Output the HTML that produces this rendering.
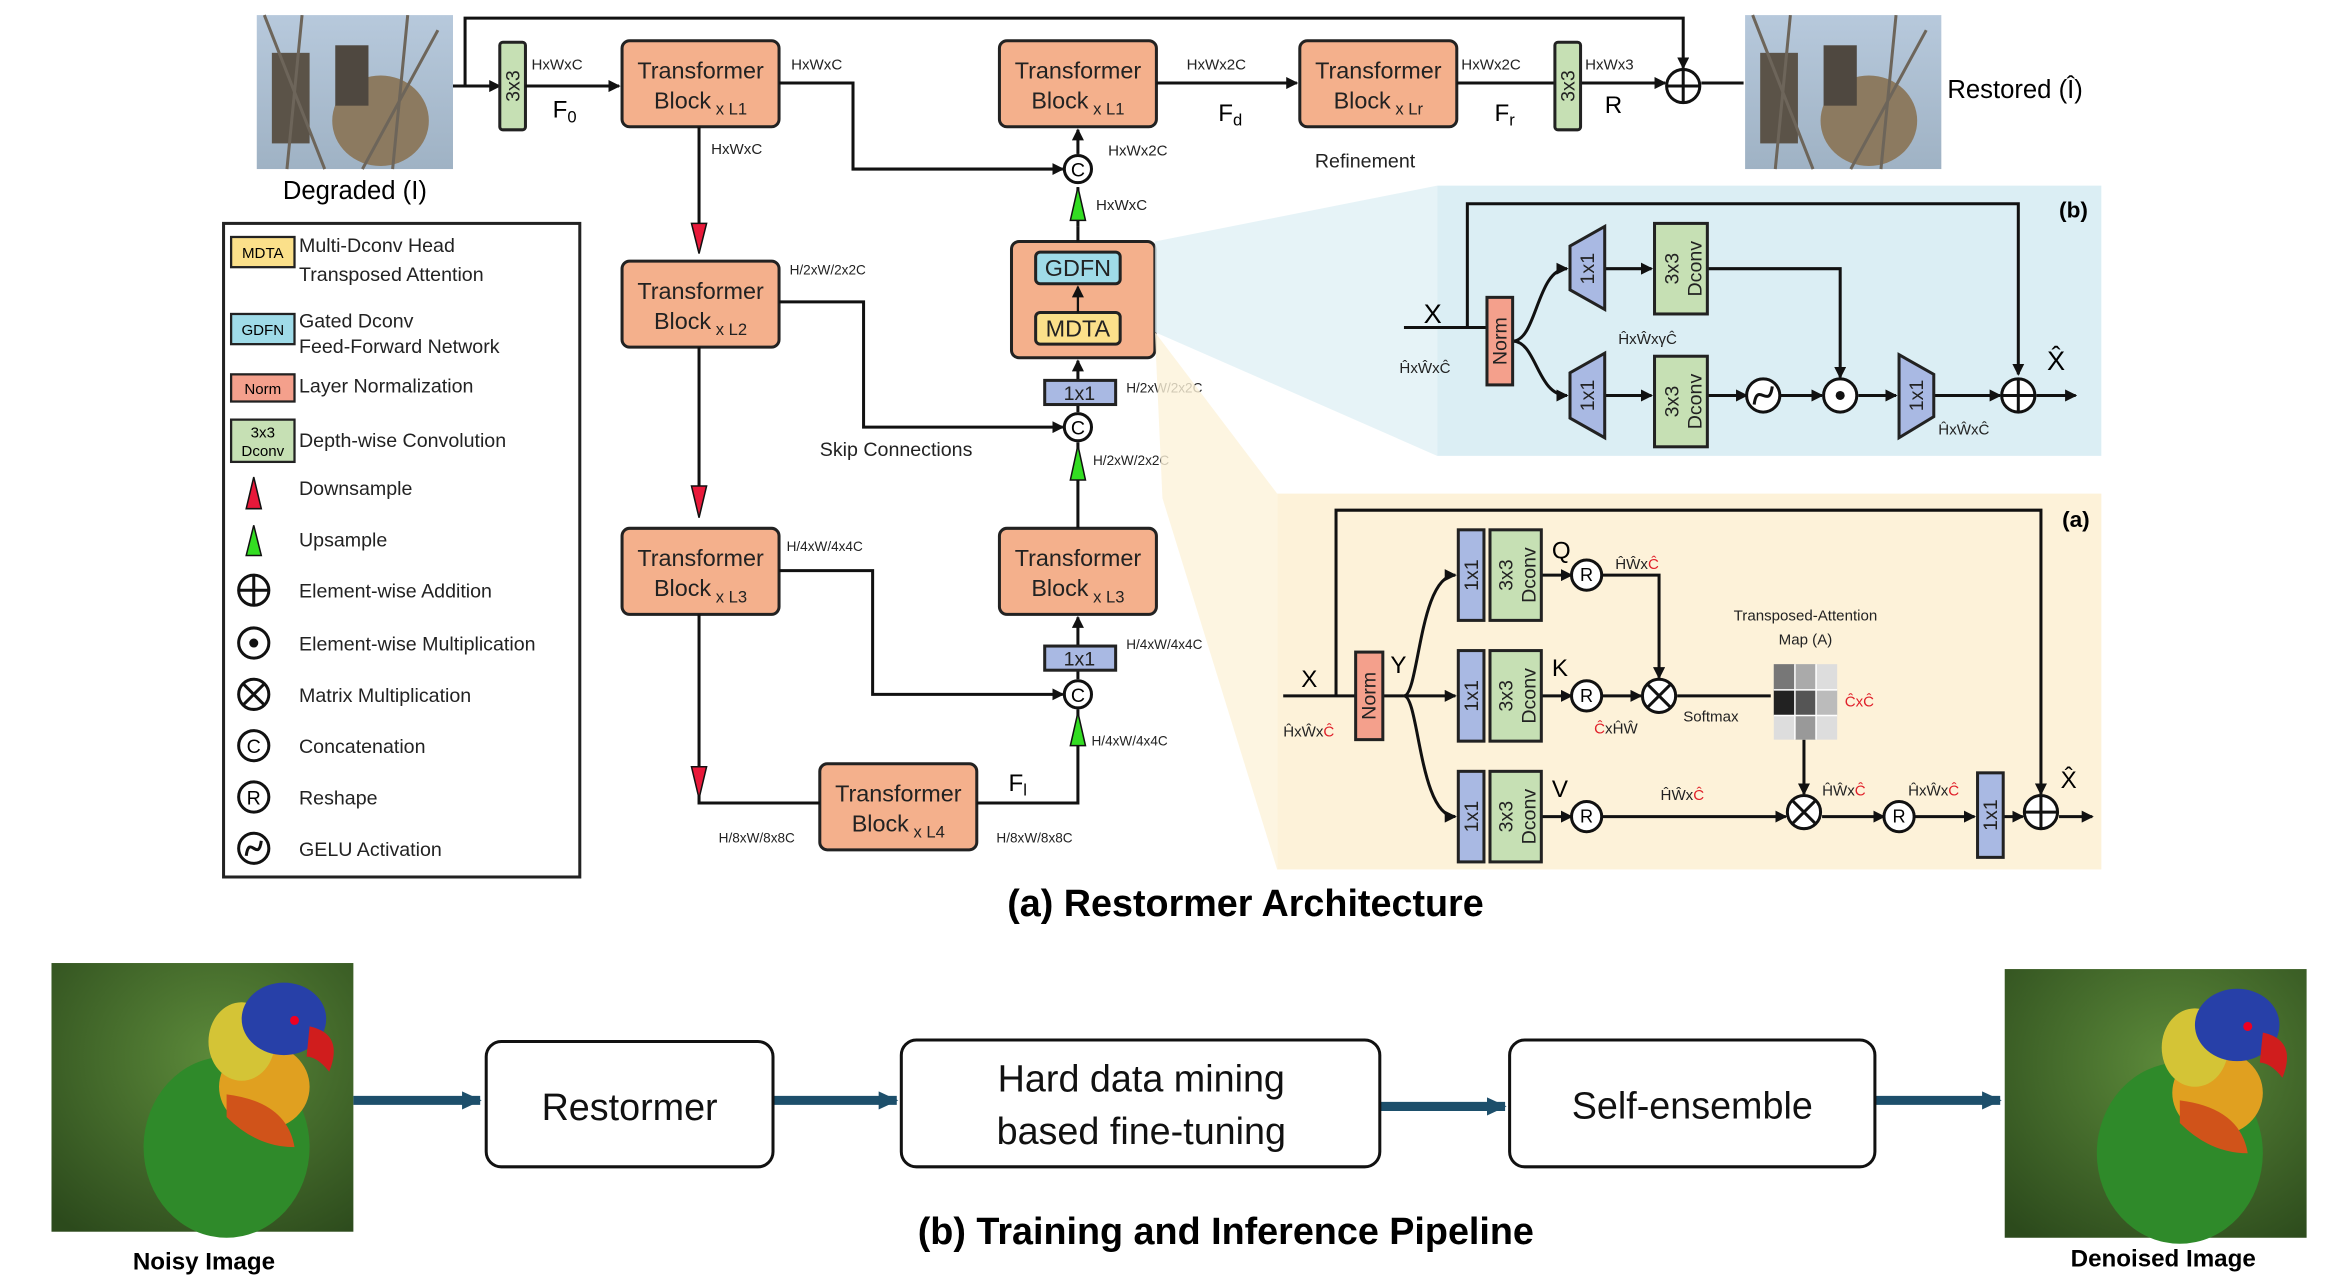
<!DOCTYPE html>
<html><head><meta charset="utf-8"><style>
html,body{margin:0;padding:0;background:#fff;}
svg{display:block;}
text{font-family:"Liberation Sans Narrow","Liberation Sans",sans-serif;}
.n{font-size:13px;fill:#222;}
.s{font-size:10px;fill:#222;}
.tb{font-size:15.5px;fill:#222;}
.w{font-family:"Liberation Sans",sans-serif;}
</style></head><body>
<svg width="2343" height="1277" viewBox="0 0 1552 846" xmlns="http://www.w3.org/2000/svg">
<defs>
<marker id="a" markerWidth="8" markerHeight="8" refX="7" refY="4" orient="auto" markerUnits="userSpaceOnUse"><path d="M0,0 L8,4 L0,8 z" fill="#111"/></marker>
<marker id="t" markerWidth="14" markerHeight="14" refX="12" refY="7" orient="auto" markerUnits="userSpaceOnUse"><path d="M0,1 L13,7 L0,13 z" fill="#1d4f6b"/></marker>
<linearGradient id="sky" x1="0" y1="0" x2="0" y2="1"><stop offset="0" stop-color="#b7c9dc"/><stop offset="1" stop-color="#9fb2c4"/></linearGradient>
<radialGradient id="par" cx="0.55" cy="0.35" r="0.8"><stop offset="0" stop-color="#5c8a3a"/><stop offset="1" stop-color="#2c4a1c"/></radialGradient>
</defs>

<g id="deg">
<rect x="170" y="10" width="130" height="102" fill="url(#sky)"/>
<ellipse cx="252" cy="80" rx="32" ry="30" fill="#8c7a60"/>
<rect x="180" y="35" width="25" height="60" fill="#5b5348"/>
<rect x="222" y="30" width="22" height="40" fill="#4f4840"/>
<path d="M175,10 L215,112 M200,10 L190,112 M270,10 L260,112 M290,20 L240,112" stroke="#6d655a" stroke-width="2"/>
</g>
<use href="#deg" x="986"/>
<text x="235" y="132" font-size="17" text-anchor="middle">Degraded (I)</text>
<text x="1290" y="65" font-size="17">Restored (Î)</text>

<path d="M300,57 H331" stroke="#111" stroke-width="2" marker-end="url(#a)"/>
<path d="M308,57 V12 H1115 V45" fill="none" stroke="#111" stroke-width="2" marker-end="url(#a)"/>
<rect x="331" y="28" width="17" height="58" fill="#c6e0b4" stroke="#222" stroke-width="2" rx="2"/>
<text transform="translate(344,57) rotate(-90)" text-anchor="middle" class="n">3x3</text>
<path d="M348,57 H410" stroke="#111" stroke-width="2" marker-end="url(#a)"/>
<text x="352" y="46" class="s">HxWxC</text>
<text x="366" y="78" font-family="Liberation Serif" font-size="16">F<tspan font-size="11" dy="3">0</tspan></text>

<g fill="#f4b08c" stroke="#222" stroke-width="2">
<rect x="412" y="27" width="104" height="57" rx="5"/>
<rect x="662" y="27" width="104" height="57" rx="5"/>
<rect x="861" y="27" width="104" height="57" rx="5"/>
<rect x="412" y="173" width="104" height="57" rx="5"/>
<rect x="412" y="350" width="104" height="57" rx="5"/>
<rect x="662" y="350" width="104" height="57" rx="5"/>
<rect x="543" y="506" width="104" height="57" rx="5"/>
<rect x="670" y="160" width="95" height="77" rx="5"/>
</g>
<g class="tb" text-anchor="middle">
<text x="464" y="52">Transformer</text><text x="464" y="72">Block<tspan font-size="11" dy="4"> x L1</tspan></text>
<text x="714" y="52">Transformer</text><text x="714" y="72">Block<tspan font-size="11" dy="4"> x L1</tspan></text>
<text x="913" y="52">Transformer</text><text x="913" y="72">Block<tspan font-size="11" dy="4"> x Lr</tspan></text>
<text x="464" y="198">Transformer</text><text x="464" y="218">Block<tspan font-size="11" dy="4"> x L2</tspan></text>
<text x="464" y="375">Transformer</text><text x="464" y="395">Block<tspan font-size="11" dy="4"> x L3</tspan></text>
<text x="714" y="375">Transformer</text><text x="714" y="395">Block<tspan font-size="11" dy="4"> x L3</tspan></text>
<text x="595" y="531">Transformer</text><text x="595" y="551">Block<tspan font-size="11" dy="4"> x L4</tspan></text>
</g>
<rect x="686" y="167" width="56" height="21" rx="3" fill="#9fdbe8" stroke="#222" stroke-width="2"/>
<text x="714" y="183" class="tb" text-anchor="middle">GDFN</text>
<rect x="686" y="207" width="56" height="21" rx="3" fill="#fbe08a" stroke="#222" stroke-width="2"/>
<text x="714" y="223" class="tb" text-anchor="middle">MDTA</text>
<path d="M714,207 V190" stroke="#111" stroke-width="1.5" marker-end="url(#a)"/>

<g stroke="#111" stroke-width="2" fill="none">
<path d="M516,55 H565 V112 H704" marker-end="url(#a)"/>
<path d="M714,102 V86" marker-end="url(#a)"/>
<path d="M714,150 V124"/>
<path d="M714,160 V150"/>
<path d="M766,55 H859" marker-end="url(#a)"/>
<path d="M965,55 H1030"/>
<path d="M1047,55 H1103" marker-end="url(#a)"/>
<path d="M1127,55 H1155"/>
<path d="M463,84 V165"/>
<path d="M463,230 V340"/>
<path d="M463,407 V532 H543"/>
<path d="M516,200 H572 V283 H704" marker-end="url(#a)"/>
<path d="M516,378 H578 V460 H704" marker-end="url(#a)"/>
<path d="M647,532 H714 V470"/>
<path d="M714,350 V293"/>
<path d="M714,273 V268"/>
<path d="M714,252 V239" marker-end="url(#a)"/>
<path d="M714,428 V409" marker-end="url(#a)"/>
<path d="M714,450 V444"/>
</g>
<rect x="1030" y="28" width="17" height="58" fill="#c6e0b4" stroke="#222" stroke-width="2" rx="2"/>
<text transform="translate(1043,57) rotate(-90)" text-anchor="middle" class="n">3x3</text>
<circle cx="1115" cy="57" r="11" fill="#fff" stroke="#111" stroke-width="2"/>
<path d="M1104,57 H1126 M1115,46 V68" stroke="#111" stroke-width="2"/>
<g fill="#fff" stroke="#111" stroke-width="2">
<circle cx="714" cy="112" r="9"/><circle cx="714" cy="283" r="9"/><circle cx="714" cy="460" r="9"/>
</g>
<g font-size="13" text-anchor="middle"><text x="714" y="117">C</text><text x="714" y="288">C</text><text x="714" y="465">C</text></g>
<g fill="#33dd22" stroke="#111" stroke-width="1">
<path d="M714,124 L709,146 L719,146 z"/><path d="M714,295 L709,318 L719,318 z"/><path d="M714,472 L709,494 L719,494 z"/>
</g>
<g fill="#e8193a" stroke="#111" stroke-width="1">
<path d="M463,168 L458,148 L468,148 z"/><path d="M463,343 L458,322 L468,322 z"/><path d="M463,529 L458,508 L468,508 z"/>
</g>
<g fill="#a9b9e3" stroke="#222" stroke-width="2">
<rect x="692" y="252" width="47" height="16"/><rect x="692" y="428" width="47" height="16"/>
</g>
<text x="715" y="265" class="n" text-anchor="middle">1x1</text><text x="715" y="441" class="n" text-anchor="middle">1x1</text>

<g class="s">
<text x="524" y="46">HxWxC</text><text x="471" y="102">HxWxC</text>
<text x="734" y="103">HxWx2C</text><text x="726" y="139">HxWxC</text>
<text x="786" y="46">HxWx2C</text><text x="968" y="46">HxWx2C</text><text x="1050" y="46">HxWx3</text>
<text x="523" y="182" font-size="9">H/2xW/2x2C</text><text x="746" y="260" font-size="9">H/2xW/2x2C</text><text x="724" y="308" font-size="9">H/2xW/2x2C</text>
<text x="521" y="365" font-size="9">H/4xW/4x4C</text><text x="746" y="430" font-size="9">H/4xW/4x4C</text><text x="723" y="494" font-size="9">H/4xW/4x4C</text>
<text x="476" y="558" font-size="9">H/8xW/8x8C</text><text x="660" y="558" font-size="9">H/8xW/8x8C</text>
</g>
<text x="543" y="302" class="n">Skip Connections</text>
<text x="871" y="111" class="n">Refinement</text>
<g font-family="Liberation Serif" font-size="16">
<text x="807" y="80">F<tspan font-size="11" dy="3">d</tspan></text>
<text x="990" y="80">F<tspan font-size="11" dy="3">r</tspan></text>
<text x="1063" y="75">R</text>
<text x="668" y="524">F<tspan font-size="11" dy="3">l</tspan></text>
</g>

<rect x="148" y="148" width="236" height="433" fill="#fff" stroke="#222" stroke-width="2"/>
<rect x="153" y="157" width="42" height="20" fill="#fbe08a" stroke="#222" stroke-width="1.5"/><text x="174" y="171" font-size="10" text-anchor="middle">MDTA</text>
<rect x="153" y="208" width="42" height="20" fill="#9fdbe8" stroke="#222" stroke-width="1.5"/><text x="174" y="222" font-size="10" text-anchor="middle">GDFN</text>
<rect x="153" y="248" width="42" height="18" fill="#f4a08c" stroke="#222" stroke-width="1.5"/><text x="174" y="261" font-size="10" text-anchor="middle">Norm</text>
<rect x="153" y="278" width="42" height="28" fill="#c6e0b4" stroke="#222" stroke-width="1.5"/><text x="174" y="290" font-size="10" text-anchor="middle">3x3</text><text x="174" y="302" font-size="10" text-anchor="middle">Dconv</text>
<g class="n">
<text x="198" y="167">Multi-Dconv Head</text><text x="198" y="186">Transposed Attention</text>
<text x="198" y="217">Gated Dconv</text><text x="198" y="234">Feed-Forward Network</text>
<text x="198" y="260">Layer Normalization</text>
<text x="198" y="296">Depth-wise Convolution</text>
<text x="198" y="328">Downsample</text><text x="198" y="362">Upsample</text>
<text x="198" y="396">Element-wise Addition</text><text x="198" y="431">Element-wise Multiplication</text>
<text x="198" y="465">Matrix Multiplication</text><text x="198" y="499">Concatenation</text>
<text x="198" y="533">Reshape</text><text x="198" y="567">GELU Activation</text>
</g>
<path d="M168,316 L163,337 L173,337 z" fill="#e8193a" stroke="#111"/>
<path d="M168,348 L163,368 L173,368 z" fill="#33dd22" stroke="#111"/>
<g fill="#fff" stroke="#111" stroke-width="2">
<circle cx="168" cy="391" r="10"/><circle cx="168" cy="426" r="10"/><circle cx="168" cy="460" r="10"/><circle cx="168" cy="494" r="10"/><circle cx="168" cy="528" r="10"/><circle cx="168" cy="562" r="10"/>
</g>
<path d="M158,391 H178 M168,381 V401 M161,453 L175,467 M175,453 L161,467 M163,567 C165,552 171,572 173,557" stroke="#111" stroke-width="2" fill="none"/>
<circle cx="168" cy="426" r="3" fill="#111"/>
<text x="168" y="499" text-anchor="middle" font-size="13">C</text><text x="168" y="533" text-anchor="middle" font-size="13">R</text>

<path d="M765,160 L952,123 L952,302 L765,220 z" fill="#dbeef4" opacity="0.7"/>
<rect x="952" y="123" width="440" height="179" fill="#dbeef4"/>
<path d="M765,220 L846,327 L846,576 L770,330 z" fill="#fdf2d9" opacity="0.8"/>
<rect x="846" y="327" width="546" height="249" fill="#fdf2d9"/>

<g stroke="#111" stroke-width="2" fill="none">
<path d="M930,217 H985"/>
<path d="M972,217 V135 H1337 V248" marker-end="url(#a)"/>
<path d="M1002,226 C1018,226 1018,178 1038,178" marker-end="url(#a)"/>
<path d="M1002,226 C1018,226 1018,262 1038,262" marker-end="url(#a)"/>
<path d="M1063,178 H1094" marker-end="url(#a)"/><path d="M1063,262 H1094" marker-end="url(#a)"/>
<path d="M1131,178 H1219 V250" marker-end="url(#a)"/>
<path d="M1131,262 H1157" marker-end="url(#a)"/><path d="M1179,262 H1207" marker-end="url(#a)"/>
<path d="M1231,262 H1256" marker-end="url(#a)"/><path d="M1281,262 H1325" marker-end="url(#a)"/>
<path d="M1349,262 H1375" marker-end="url(#a)"/>
</g>
<rect x="985" y="197" width="17" height="58" fill="#f4a08c" stroke="#222" stroke-width="2"/>
<text transform="translate(998,226) rotate(-90)" text-anchor="middle" class="n">Norm</text>
<g fill="#a9b9e3" stroke="#222" stroke-width="2">
<path d="M1040,163 L1063,150 L1063,205 L1040,192 z"/><path d="M1040,247 L1063,234 L1063,290 L1040,277 z"/>
<path d="M1258,235 L1281,248 L1281,276 L1258,290 z"/>
</g>
<text transform="translate(1056,178) rotate(-90)" text-anchor="middle" class="n">1x1</text>
<text transform="translate(1056,262) rotate(-90)" text-anchor="middle" class="n">1x1</text>
<text transform="translate(1274,262) rotate(-90)" text-anchor="middle" class="n">1x1</text>
<g fill="#c6e0b4" stroke="#222" stroke-width="2"><rect x="1096" y="148" width="35" height="60"/><rect x="1096" y="236" width="35" height="60"/></g>
<g class="n" text-anchor="middle">
<text transform="translate(1112,178) rotate(-90)">3x3</text><text transform="translate(1127,178) rotate(-90)">Dconv</text>
<text transform="translate(1112,266) rotate(-90)">3x3</text><text transform="translate(1127,266) rotate(-90)">Dconv</text>
</g>
<g fill="#fff" stroke="#111" stroke-width="2"><circle cx="1168" cy="262" r="11"/><circle cx="1219" cy="262" r="11"/><circle cx="1337" cy="262" r="11"/></g>
<path d="M1162,268 C1164,252 1172,272 1174,256 M1326,262 H1348 M1337,251 V273" stroke="#111" stroke-width="2" fill="none"/>
<circle cx="1219" cy="262" r="3" fill="#111"/>
<text x="943" y="214" font-family="Liberation Serif" font-size="18">X</text>
<text x="927" y="247" class="s">ĤxŴxĈ</text>
<text x="1072" y="228" class="s">ĤxŴxγĈ</text>
<text x="1284" y="288" class="s">ĤxŴxĈ</text>
<text x="1356" y="245" font-family="Liberation Serif" font-size="18">X̂</text>
<text x="1364" y="144" font-size="15" font-weight="bold" class="w">(b)</text>

<g stroke="#111" stroke-width="2" fill="none">
<path d="M850,461 H898"/>
<path d="M885,461 V338 H1352 V526" marker-end="url(#a)"/>
<path d="M916,461 H930"/>
<path d="M930,461 C940,461 940,381 964,381" marker-end="url(#a)"/>
<path d="M930,461 H964" marker-end="url(#a)"/>
<path d="M930,461 C940,461 940,541 964,541" marker-end="url(#a)"/>
<path d="M1021,381 H1041" marker-end="url(#a)"/><path d="M1021,461 H1041" marker-end="url(#a)"/><path d="M1021,541 H1041" marker-end="url(#a)"/>
<path d="M1061,381 H1099 V449" marker-end="url(#a)"/>
<path d="M1061,461 H1087" marker-end="url(#a)"/>
<path d="M1111,461 H1173"/>
<path d="M1195,490 V526" marker-end="url(#a)"/>
<path d="M1061,541 H1183" marker-end="url(#a)"/>
<path d="M1207,541 H1248" marker-end="url(#a)"/>
<path d="M1268,541 H1308" marker-end="url(#a)"/>
<path d="M1327,541 H1340" marker-end="url(#a)"/>
<path d="M1364,541 H1386" marker-end="url(#a)"/>
</g>
<rect x="898" y="432" width="18" height="58" fill="#f4a08c" stroke="#222" stroke-width="2"/>
<text transform="translate(911,461) rotate(-90)" text-anchor="middle" class="n">Norm</text>
<g fill="#a9b9e3" stroke="#222" stroke-width="2"><rect x="966" y="351" width="17" height="60"/><rect x="966" y="431" width="17" height="60"/><rect x="966" y="511" width="17" height="60"/><rect x="1310" y="512" width="17" height="56"/></g>
<g fill="#c6e0b4" stroke="#222" stroke-width="2"><rect x="987" y="351" width="34" height="60"/><rect x="987" y="431" width="34" height="60"/><rect x="987" y="511" width="34" height="60"/></g>
<g class="n" text-anchor="middle">
<text transform="translate(979,381) rotate(-90)">1x1</text><text transform="translate(979,461) rotate(-90)">1x1</text><text transform="translate(979,541) rotate(-90)">1x1</text><text transform="translate(1323,540) rotate(-90)">1x1</text>
<text transform="translate(1002,381) rotate(-90)">3x3</text><text transform="translate(1017,381) rotate(-90)">Dconv</text>
<text transform="translate(1002,461) rotate(-90)">3x3</text><text transform="translate(1017,461) rotate(-90)">Dconv</text>
<text transform="translate(1002,541) rotate(-90)">3x3</text><text transform="translate(1017,541) rotate(-90)">Dconv</text>
</g>
<g fill="#fff" stroke="#111" stroke-width="2">
<circle cx="1051" cy="381" r="10"/><circle cx="1051" cy="461" r="10"/><circle cx="1051" cy="541" r="10"/>
<circle cx="1099" cy="461" r="11"/><circle cx="1195" cy="538" r="11"/><circle cx="1258" cy="541" r="10"/><circle cx="1352" cy="538" r="11"/>
</g>
<g font-size="12" text-anchor="middle"><text x="1051" y="385">R</text><text x="1051" y="465">R</text><text x="1051" y="545">R</text><text x="1258" y="545">R</text></g>
<path d="M1091,453 L1107,469 M1107,453 L1091,469 M1187,530 L1203,546 M1203,530 L1187,546 M1341,538 H1363 M1352,527 V549" stroke="#111" stroke-width="2"/>
<g>
<rect x="1175" y="440" width="42" height="50" fill="#ddd"/>
<rect x="1175" y="440" width="14" height="17" fill="#777"/><rect x="1189" y="440" width="14" height="17" fill="#aaa"/><rect x="1203" y="457" width="14" height="17" fill="#bbb"/>
<rect x="1175" y="457" width="14" height="17" fill="#222"/><rect x="1189" y="457" width="14" height="17" fill="#555"/><rect x="1189" y="474" width="14" height="16" fill="#999"/>
<path d="M1175,457 H1217 M1175,474 H1217 M1189,440 V490 M1203,440 V490" stroke="#fff" stroke-width="1"/>
</g>
<text x="1196" y="411" class="s" text-anchor="middle">Transposed-Attention</text>
<text x="1196" y="427" class="s" text-anchor="middle">Map (A)</text>
<text x="1115" y="478" class="s">Softmax</text>
<g font-family="Liberation Serif" font-size="16"><text x="862" y="455">X</text><text x="921" y="446">Y</text><text x="1028" y="370">Q</text><text x="1028" y="448">K</text><text x="1028" y="528">V</text><text x="1365" y="522">X̂</text></g>
<g class="s">
<text x="850" y="488">ĤxŴx<tspan fill="#e0202a">Ĉ</tspan></text>
<text x="1070" y="377">ĤŴx<tspan fill="#e0202a">Ĉ</tspan></text>
<text x="1056" y="486"><tspan fill="#e0202a">Ĉ</tspan>xĤŴ</text>
<text x="1222" y="468" fill="#e0202a">ĈxĈ</text>
<text x="1100" y="530">ĤŴx<tspan fill="#e0202a">Ĉ</tspan></text>
<text x="1207" y="527">ĤŴx<tspan fill="#e0202a">Ĉ</tspan></text>
<text x="1264" y="527">ĤxŴx<tspan fill="#e0202a">Ĉ</tspan></text>
</g>
<text x="1366" y="349" font-size="15" font-weight="bold" class="w">(a)</text>

<text x="825" y="607" font-size="25" font-weight="bold" class="w" text-anchor="middle">(a) Restormer Architecture</text>

<g id="parrot">
<rect x="34" y="638" width="200" height="178" fill="url(#par)"/>
<ellipse cx="150" cy="760" rx="55" ry="60" fill="#2f8a2a"/>
<ellipse cx="175" cy="720" rx="30" ry="28" fill="#e0a020"/>
<ellipse cx="160" cy="690" rx="22" ry="26" fill="#d4c436"/>
<ellipse cx="188" cy="675" rx="28" ry="24" fill="#2740a8"/>
<path d="M205,680 Q228,685 218,710 Q210,700 203,700 z" fill="#d01d1d"/>
<path d="M150,725 Q190,730 195,760 Q170,760 150,740 z" fill="#d0531a"/>
<circle cx="195" cy="676" r="3" fill="#e02"/>
</g>
<use href="#parrot" x="1294" y="4"/>
<g stroke="#1d4f6b" stroke-width="6" fill="none">
<path d="M234,729 H318" marker-end="url(#t)"/>
<path d="M512,729 H594" marker-end="url(#t)"/>
<path d="M914,733 H997" marker-end="url(#t)"/>
<path d="M1242,729 H1325" marker-end="url(#t)"/>
</g>
<g fill="#fff" stroke="#111" stroke-width="2">
<rect x="322" y="690" width="190" height="83" rx="10"/>
<rect x="597" y="689" width="317" height="84" rx="10"/>
<rect x="1000" y="689" width="242" height="84" rx="10"/>
</g>
<g font-size="25" class="w" text-anchor="middle" fill="#111">
<text x="417" y="742">Restormer</text>
<text x="756" y="723">Hard data mining</text><text x="756" y="758">based fine-tuning</text>
<text x="1121" y="741">Self-ensemble</text>
</g>
<text x="135" y="841" font-size="16" font-weight="bold" class="w" text-anchor="middle">Noisy Image</text>
<text x="1433" y="839" font-size="16" font-weight="bold" class="w" text-anchor="middle">Denoised Image</text>
<text x="812" y="824" font-size="25" font-weight="bold" class="w" text-anchor="middle">(b) Training and Inference Pipeline</text>
</svg>
</body></html>
